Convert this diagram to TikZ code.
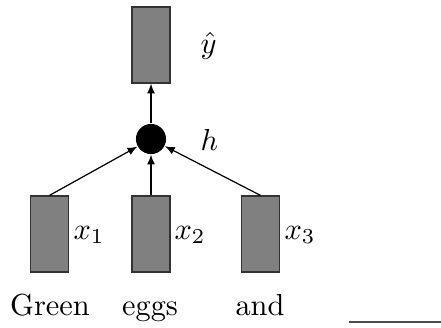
\documentclass[tikz,border=0pt]{standalone}
\usetikzlibrary{arrows.meta}
\begin{document}
\begin{tikzpicture}[x=0.329pt,y=-0.329pt,
  vecbox/.style={draw=black!80,fill=black!50,line width=0.4pt,minimum width=12.5pt,minimum height=25pt,inner sep=0pt},
  hid/.style={circle,fill=black,minimum size=9.9pt,inner sep=0pt},
  conn/.style={-{Latex[length=3.2pt,width=2.6pt]},line width=0.4pt},
  lab/.style={inner sep=0pt,anchor=base west},
  word/.style={inner sep=0pt,anchor=base}]
\useasboundingbox (0,0) rectangle (441,327);
\node[vecbox] (y) at (151,45) {};
\node[hid] (h) at (151,139) {};
\node[vecbox] (x1) at (49.5,234) {};
\node[vecbox] (x2) at (151,234) {};
\node[vecbox] (x3) at (260.5,234) {};
\node[lab] (ly) at (200,53) {$\hat{y}$};
\node[lab] (lh) at (200,150) {$h$};
\node[lab] (lx1) at (73,239) {$x_1$};
\node[lab] (lx2) at (174,239) {$x_2$};
\node[lab] (lx3) at (284,239) {$x_3$};
\node[word] (w1) at (50,315) {Green};
\node[word] (w2) at (150,315) {eggs};
\node[word] (w3) at (260,315) {and};
\coordinate (b1) at (349,322);
\coordinate (b2) at (441,322);
\draw[conn] (h) -- (y);
\draw[conn] (x1.north) -- (h);
\draw[conn] (x2.north) -- (h);
\draw[conn] (x3.north) -- (h);
\draw[black!70,line width=0.5pt] (b1) -- (b2);
\end{tikzpicture}
\end{document}
